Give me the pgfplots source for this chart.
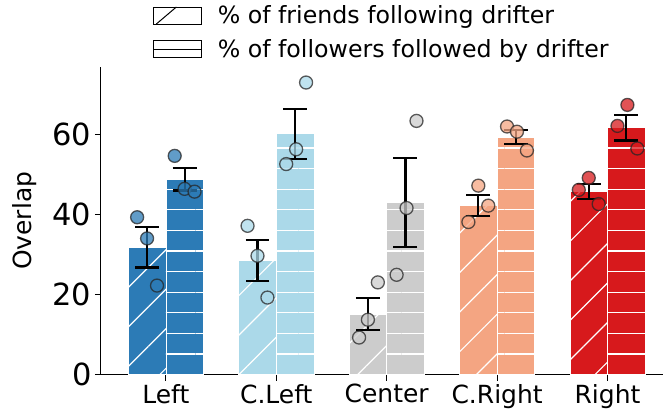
\documentclass[border=0pt]{standalone}
\usepackage{fontspec}
\setmainfont{DejaVu Sans}
\usepackage{pgfplots}
\pgfplotsset{compat=1.18}
\usetikzlibrary{patterns.meta,calc}

\definecolor{cL}{HTML}{2C7BB6}
\definecolor{cCL}{HTML}{ABD9E9}
\definecolor{cC}{HTML}{CCCCCC}
\definecolor{cCR}{HTML}{F4A582}
\definecolor{cR}{HTML}{D7191C}

\tikzset{
  hatchA/.style={postaction={pattern color=white, pattern={Lines[angle=45,distance=28pt,line width=1.2pt]}}},
  hatchB/.style={postaction={pattern color=white, pattern={Lines[angle=0,distance=20.6pt,line width=1.2pt]}}},
}
\pgfplotsset{
  every error bar/.style={black, line width=2.2pt, solid},
  errstyle/.style={error bars/.cd, y dir=both, y explicit,
     error bar style={black, line width=2.2pt, solid},
     error mark options={black, line width=2.2pt, mark size=12pt, rotate=90}},
  barA/.style={ybar, bar width=0.34, fill=#1, draw=white, line width=0.6pt, hatchA, forget plot, errstyle},
  barB/.style={ybar, bar width=0.34, fill=#1, draw=white, line width=0.6pt, hatchB, forget plot, errstyle},
  pts/.style={only marks, mark=*, mark size=6.5pt, forget plot,
     mark options={fill=#1, fill opacity=0.75, draw=black!85, draw opacity=0.75, line width=1.3pt}},
}

\begin{document}
\begin{tikzpicture}
\begin{axis}[
  name=ax,
  width=562pt, height=308pt, scale only axis,
  xmin=-0.588, xmax=4.498, ymin=0, ymax=77,
  axis x line*=bottom, axis y line*=left,
  axis line style={line width=1pt, black},
  tick align=outside, major tick length=6pt,
  tick style={line width=1pt, black},
  xtick={0,1,2,3,4},
  xticklabels={Left, C.Left, Center, C.Right, Right},
  ytick={0,20,40,60},
  /pgf/number format/assume math mode=true,
  xticklabel style={font=\fontsize{25}{30}\selectfont},
  yticklabel style={font=\fontsize{30.5}{36}\selectfont},
  ylabel={Overlap},
  ylabel style={font=\fontsize{25}{30}\selectfont, at={(axis description cs:-0.1352,0.5)}, anchor=center},
  legend style={at={(0.5,1.0)}, anchor=south, yshift=3pt, draw=none, fill=none,
     font=\fontsize{23.7}{28}\selectfont, legend cell align=left,
     nodes={inner ysep=3pt}, row sep=8pt,
     /tikz/every odd column/.append style={column sep=14pt}},
]
% legend entries
\addlegendimage{legend image code/.code={
   \draw[black, line width=1pt] (0pt,-8.5pt) rectangle (48pt,8.5pt);
   \draw[black, line width=1pt] (3pt,-8.5pt) -- (23pt,8.5pt);}}
\addlegendentry{\% of friends following drifter}
\addlegendimage{legend image code/.code={
   \draw[black, line width=1pt] (0pt,-8.5pt) rectangle (48pt,8.5pt);
   \draw[black, line width=1pt] (0pt,0pt) -- (48pt,0pt);}}
\addlegendentry{\% of followers followed by drifter}

% Left
\addplot[barA=cL] coordinates {(-0.17,31.9) +- (0,5.1)};
\addplot[barB=cL] coordinates {(0.17,48.9) +- (0,2.8)};
% C.Left
\addplot[barA=cCL] coordinates {(0.83,28.6) +- (0,5.15)};
\addplot[barB=cCL] coordinates {(1.17,60.3) +- (0,6.25)};
% Center
\addplot[barA=cC] coordinates {(1.83,15.1) +- (0,4.0)};
\addplot[barB=cC] coordinates {(2.17,43.1) +- (0,11.1)};
% C.Right
\addplot[barA=cCR] coordinates {(2.83,42.4) +- (0,2.6)};
\addplot[barB=cCR] coordinates {(3.17,59.5) +- (0,1.8)};
% Right
\addplot[barA=cR] coordinates {(3.83,45.8) +- (0,1.85)};
\addplot[barB=cR] coordinates {(4.17,61.8) +- (0,3.2)};

% individual points
\addplot[pts=cL] coordinates {(-0.26,39.4) (-0.17,34.1) (-0.08,22.3)};
\addplot[pts=cL] coordinates {(0.08,54.75) (0.17,46.5) (0.26,45.8)};
\addplot[pts=cCL] coordinates {(0.74,37.25) (0.83,29.75) (0.92,19.3)};
\addplot[pts=cCL] coordinates {(1.09,52.7) (1.18,56.4) (1.27,73.1)};
\addplot[pts=cC] coordinates {(1.75,9.3) (1.83,13.75) (1.92,23.1)};
\addplot[pts=cC] coordinates {(2.09,25) (2.18,41.7) (2.27,63.5)};
\addplot[pts=cCR] coordinates {(2.74,38.2) (2.83,47.3) (2.92,42.3)};
\addplot[pts=cCR] coordinates {(3.09,62.1) (3.18,60.8) (3.27,56.1)};
\addplot[pts=cR] coordinates {(3.74,46.25) (3.83,49.25) (3.92,42.7)};
\addplot[pts=cR] coordinates {(4.09,62.25) (4.18,67.5) (4.27,56.6)};
\end{axis}
\path ($(ax.south west)+(-101pt,-41pt)$) rectangle ($(ax.north east)+(0pt,67pt)$);
\end{tikzpicture}
\end{document}
